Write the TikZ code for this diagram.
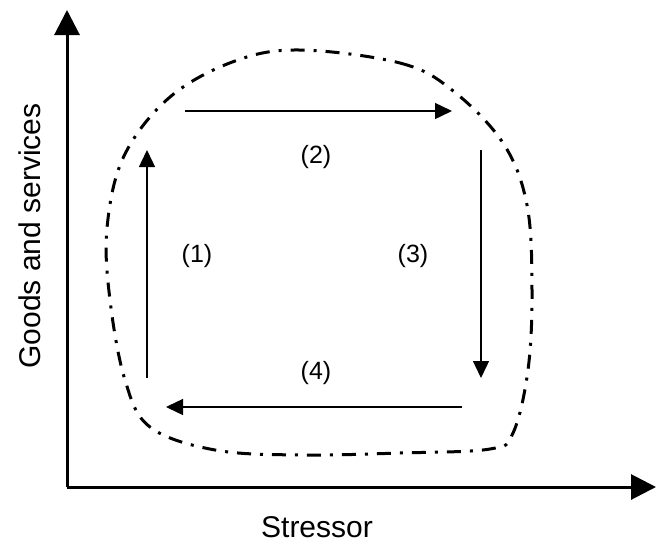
\documentclass[tikz,border=0pt]{standalone}
\usepackage{fontspec}
\setmainfont{Liberation Sans}
\usetikzlibrary{arrows.meta}
\begin{document}
\begin{tikzpicture}[x=1pt,y=-1pt,
  axis/.style={line width=3pt,-{Triangle[length=25pt,width=25pt]}},
  flow/.style={line width=1.4pt,-{Triangle[length=17pt,width=16pt]}},
  lbl/.style={font=\fontsize{25}{28}\selectfont,inner sep=0pt},
  axlbl/.style={font=\fontsize{30}{34}\selectfont,inner sep=0pt},
  envelope/.style={line width=3pt,dash pattern=on 14pt off 9pt on 3pt off 9pt}]
\useasboundingbox (0,0) rectangle (657,547);
% axes
\coordinate (O) at (67,487);
\coordinate (Ytop) at (67,10);
\coordinate (Xend) at (656,487);
\draw[axis] (O) -- (Ytop);
\draw[axis] (O) -- (Xend);
\node[axlbl,rotate=90] (ylab) at (30,236) {Goods and services};
\node[axlbl] (xlab) at (317,527) {Stressor};
% envelope
\draw[envelope] plot[smooth cycle,tension=0.6] coordinates {
 (300,50) (400,63) (452,90) (503,143) (527,205) (532,290) (528,370) (513,433)
 (490,449) (400,453) (300,455) (215,450) (150,427) (125,380) (110,300)
 (107,228) (124,156) (170,97) (235,61)};
% cycle arrows
\coordinate (a1s) at (147,378);
\coordinate (a1e) at (147,150);
\coordinate (a2s) at (185,111);
\coordinate (a2e) at (452,111);
\coordinate (a3s) at (481,150);
\coordinate (a3e) at (481,378);
\coordinate (a4s) at (462,407);
\coordinate (a4e) at (166,407);
\draw[flow] (a1s) -- (a1e);
\draw[flow] (a2s) -- (a2e);
\draw[flow] (a3s) -- (a3e);
\draw[flow] (a4s) -- (a4e);
\node[lbl] (l1) at (197,256) {(1)};
\node[lbl] (l2) at (316,157) {(2)};
\node[lbl] (l3) at (413,256) {(3)};
\node[lbl] (l4) at (316,373) {(4)};
\end{tikzpicture}
\end{document}
